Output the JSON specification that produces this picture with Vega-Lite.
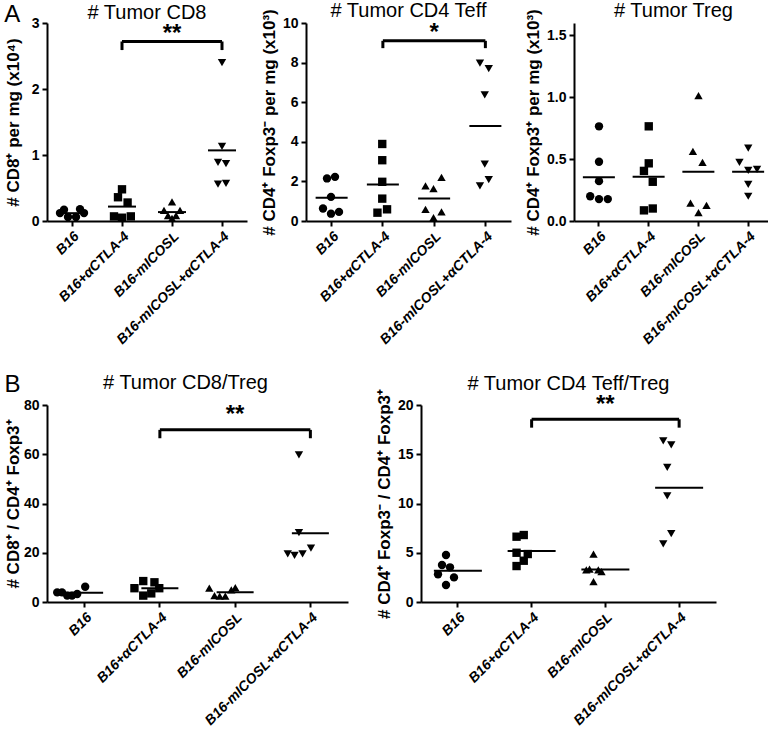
{
  "$schema": "https://vega.github.io/schema/vega-lite/v6.json",
  "padding": {"left": 4, "top": 0, "right": 0, "bottom": 0},
  "config": {
    "view": {"stroke": null},
    "font": "Liberation Sans",
    "axis": {"grid": false, "domainColor": "black", "domainWidth": 2, "tickColor": "black", "tickWidth": 2, "tickSize": 5, "labelColor": "black", "labelFont": "Liberation Sans", "labelFontWeight": "bold", "labelFontSize": 14, "titleFont": "Liberation Sans", "titleFontWeight": "bold", "titleFontSize": 17, "titleColor": "black", "labelPadding": 3, "titlePadding": 4, "labelOverlap": false, "labelFlush": false},
    "axisX": {"labelAngle": -45, "labelFontStyle": "italic", "labelFontSize": 14},
    "title": {"font": "Liberation Sans", "fontSize": 20, "fontWeight": "normal", "color": "black", "offset": -12, "frame": "group"},
    "concat": {"spacing": 20}
  },
  "spacing": 26,
  "vconcat": [
    {
      "title": {"text": "A", "anchor": "start", "fontSize": 24, "offset": -26, "frame": "bounds"},
      "spacing": 13,
      "hconcat": [
        {
          "width": 200, "height": 198,
          "title": {"text": "# Tumor CD8", "offset": -7},
          "layer": [
            {
              "data": {"values": [
                {"group": "B16", "value": 0.17, "lane": -2},
                {"group": "B16", "value": 0.12, "lane": -3},
                {"group": "B16", "value": 0.06, "lane": -1},
                {"group": "B16", "value": 0.18, "lane": 2},
                {"group": "B16", "value": 0.12, "lane": 3},
                {"group": "B16", "value": 0.06, "lane": 1},
                {"group": "B16+αCTLA-4", "value": 0.48, "lane": 0},
                {"group": "B16+αCTLA-4", "value": 0.36, "lane": -1},
                {"group": "B16+αCTLA-4", "value": 0.28, "lane": 1.4},
                {"group": "B16+αCTLA-4", "value": 0.07, "lane": -2},
                {"group": "B16+αCTLA-4", "value": 0.05, "lane": 0},
                {"group": "B16+αCTLA-4", "value": 0.07, "lane": 2.2},
                {"group": "B16-mICOSL", "value": 0.29, "lane": 0},
                {"group": "B16-mICOSL", "value": 0.16, "lane": -2},
                {"group": "B16-mICOSL", "value": 0.16, "lane": 2},
                {"group": "B16-mICOSL", "value": 0.08, "lane": -1},
                {"group": "B16-mICOSL", "value": 0.08, "lane": 1},
                {"group": "B16-mICOSL", "value": 0.04, "lane": 0},
                {"group": "B16-mICOSL+αCTLA-4", "value": 2.4, "lane": 0},
                {"group": "B16-mICOSL+αCTLA-4", "value": 1.13, "lane": 0},
                {"group": "B16-mICOSL+αCTLA-4", "value": 0.89, "lane": -1},
                {"group": "B16-mICOSL+αCTLA-4", "value": 0.87, "lane": 1},
                {"group": "B16-mICOSL+αCTLA-4", "value": 0.56, "lane": -1},
                {"group": "B16-mICOSL+αCTLA-4", "value": 0.57, "lane": 1}
              ]},
              "layer": [
                {
                  "mark": {"type": "point", "filled": true, "size": 70, "color": "black", "opacity": 1},
                  "encoding": {
                    "x": {"field": "group", "type": "nominal", "sort": ["B16", "B16+αCTLA-4", "B16-mICOSL", "B16-mICOSL+αCTLA-4"], "scale": {"paddingInner": 0, "paddingOuter": 0}, "axis": {"title": null}},
                    "xOffset": {"field": "lane", "type": "quantitative", "scale": {"domain": [-5, 5]}},
                    "y": {"field": "value", "type": "quantitative", "scale": {"domain": [0, 3]}, "axis": {"title": "# CD8⁺ per mg (x10⁴)", "values": [0, 1, 2, 3], "format": "d", "titlePadding": 9}},
                    "shape": {"field": "group", "type": "nominal", "scale": {"domain": ["B16", "B16+αCTLA-4", "B16-mICOSL", "B16-mICOSL+αCTLA-4"], "range": ["circle", "square", "triangle-up", "triangle-down"]}, "legend": null}
                  }
                },
                {
                  "mark": {"type": "tick", "color": "black", "size": 28, "thickness": 2},
                  "encoding": {
                    "x": {"field": "group", "type": "nominal", "sort": ["B16", "B16+αCTLA-4", "B16-mICOSL", "B16-mICOSL+αCTLA-4"]},
                    "y": {"aggregate": "mean", "field": "value", "type": "quantitative", "axis": {"title": "# CD8⁺ per mg (x10⁴)", "values": [0, 1, 2, 3], "format": "d", "titlePadding": 9}}
                  }
                }
              ]
            },
            {
              "data": {"values": [{"g1": "B16+αCTLA-4", "g2": "B16-mICOSL+αCTLA-4", "mid": "B16-mICOSL", "top": 2.72, "low": 2.59, "star": 2.83, "label": "**"}]},
              "layer": [
                {"mark": {"type": "rule", "color": "black", "strokeWidth": 3}, "encoding": {"x": {"field": "g1", "type": "nominal", "bandPosition": 0.5}, "x2": {"field": "g2", "bandPosition": 0.5}, "y": {"field": "top", "type": "quantitative", "axis": {"title": "# CD8⁺ per mg (x10⁴)", "values": [0, 1, 2, 3], "format": "d", "titlePadding": 9}}}},
                {"mark": {"type": "rule", "color": "black", "strokeWidth": 3}, "encoding": {"x": {"field": "g1", "type": "nominal", "bandPosition": 0.5}, "y": {"field": "top", "type": "quantitative", "axis": {"title": "# CD8⁺ per mg (x10⁴)", "values": [0, 1, 2, 3], "format": "d", "titlePadding": 9}}, "y2": {"field": "low"}}},
                {"mark": {"type": "rule", "color": "black", "strokeWidth": 3}, "encoding": {"x": {"field": "g2", "type": "nominal", "bandPosition": 0.5}, "y": {"field": "top", "type": "quantitative", "axis": {"title": "# CD8⁺ per mg (x10⁴)", "values": [0, 1, 2, 3], "format": "d", "titlePadding": 9}}, "y2": {"field": "low"}}},
                {"mark": {"type": "text", "color": "black", "fontSize": 24, "fontWeight": "bold", "baseline": "middle"}, "encoding": {"x": {"field": "mid", "type": "nominal", "bandPosition": 0.5}, "y": {"field": "star", "type": "quantitative", "axis": {"title": "# CD8⁺ per mg (x10⁴)", "values": [0, 1, 2, 3], "format": "d", "titlePadding": 9}}, "text": {"field": "label"}}}
              ]
            }
          ]
        },
        {
          "width": 205, "height": 198,
          "title": "# Tumor CD4 Teff",
          "layer": [
            {
              "data": {"values": [
                {"group": "B16", "value": 2.15, "lane": -1},
                {"group": "B16", "value": 2.23, "lane": 1},
                {"group": "B16", "value": 1.22, "lane": 0},
                {"group": "B16", "value": 0.63, "lane": -2},
                {"group": "B16", "value": 0.37, "lane": 0},
                {"group": "B16", "value": 0.46, "lane": 2},
                {"group": "B16+αCTLA-4", "value": 3.89, "lane": 0},
                {"group": "B16+αCTLA-4", "value": 3.07, "lane": 0},
                {"group": "B16+αCTLA-4", "value": 1.98, "lane": 0},
                {"group": "B16+αCTLA-4", "value": 1.13, "lane": 0},
                {"group": "B16+αCTLA-4", "value": 0.42, "lane": -1.2},
                {"group": "B16+αCTLA-4", "value": 0.59, "lane": 1.2},
                {"group": "B16-mICOSL", "value": 1.77, "lane": -2},
                {"group": "B16-mICOSL", "value": 1.64, "lane": 0},
                {"group": "B16-mICOSL", "value": 2.2, "lane": 2},
                {"group": "B16-mICOSL", "value": 0.59, "lane": -2},
                {"group": "B16-mICOSL", "value": 0.46, "lane": 2},
                {"group": "B16-mICOSL", "value": 0.17, "lane": 0},
                {"group": "B16-mICOSL+αCTLA-4", "value": 7.97, "lane": -1.2},
                {"group": "B16-mICOSL+αCTLA-4", "value": 7.69, "lane": 1},
                {"group": "B16-mICOSL+αCTLA-4", "value": 6.37, "lane": 0},
                {"group": "B16-mICOSL+αCTLA-4", "value": 2.87, "lane": 0},
                {"group": "B16-mICOSL+αCTLA-4", "value": 1.77, "lane": -1.2},
                {"group": "B16-mICOSL+αCTLA-4", "value": 2.09, "lane": 1}
              ]},
              "layer": [
                {
                  "mark": {"type": "point", "filled": true, "size": 70, "color": "black", "opacity": 1},
                  "encoding": {
                    "x": {"field": "group", "type": "nominal", "sort": ["B16", "B16+αCTLA-4", "B16-mICOSL", "B16-mICOSL+αCTLA-4"], "scale": {"paddingInner": 0, "paddingOuter": 0}, "axis": {"title": null}},
                    "xOffset": {"field": "lane", "type": "quantitative", "scale": {"domain": [-5, 5]}},
                    "y": {"field": "value", "type": "quantitative", "scale": {"domain": [0, 10]}, "axis": {"title": "# CD4⁺ Foxp3⁻ per mg (x10³)", "values": [0, 2, 4, 6, 8, 10], "format": "d"}},
                    "shape": {"field": "group", "type": "nominal", "legend": null}
                  }
                },
                {
                  "mark": {"type": "tick", "color": "black", "size": 32, "thickness": 2},
                  "encoding": {
                    "x": {"field": "group", "type": "nominal", "sort": ["B16", "B16+αCTLA-4", "B16-mICOSL", "B16-mICOSL+αCTLA-4"]},
                    "y": {"aggregate": "mean", "field": "value", "type": "quantitative", "axis": {"title": "# CD4⁺ Foxp3⁻ per mg (x10³)", "values": [0, 2, 4, 6, 8, 10], "format": "d"}}
                  }
                }
              ]
            },
            {
              "data": {"values": [{"g1": "B16+αCTLA-4", "g2": "B16-mICOSL+αCTLA-4", "mid": "B16-mICOSL", "top": 9.1, "low": 8.73, "star": 9.52, "label": "*"}]},
              "layer": [
                {"mark": {"type": "rule", "color": "black", "strokeWidth": 3}, "encoding": {"x": {"field": "g1", "type": "nominal", "bandPosition": 0.5}, "x2": {"field": "g2", "bandPosition": 0.5}, "y": {"field": "top", "type": "quantitative", "axis": {"title": "# CD4⁺ Foxp3⁻ per mg (x10³)", "values": [0, 2, 4, 6, 8, 10], "format": "d"}}}},
                {"mark": {"type": "rule", "color": "black", "strokeWidth": 3}, "encoding": {"x": {"field": "g1", "type": "nominal", "bandPosition": 0.5}, "y": {"field": "top", "type": "quantitative", "axis": {"title": "# CD4⁺ Foxp3⁻ per mg (x10³)", "values": [0, 2, 4, 6, 8, 10], "format": "d"}}, "y2": {"field": "low"}}},
                {"mark": {"type": "rule", "color": "black", "strokeWidth": 3}, "encoding": {"x": {"field": "g2", "type": "nominal", "bandPosition": 0.5}, "y": {"field": "top", "type": "quantitative", "axis": {"title": "# CD4⁺ Foxp3⁻ per mg (x10³)", "values": [0, 2, 4, 6, 8, 10], "format": "d"}}, "y2": {"field": "low"}}},
                {"mark": {"type": "text", "color": "black", "fontSize": 24, "fontWeight": "bold", "baseline": "middle"}, "encoding": {"x": {"field": "mid", "type": "nominal", "bandPosition": 0.5}, "y": {"field": "star", "type": "quantitative", "axis": {"title": "# CD4⁺ Foxp3⁻ per mg (x10³)", "values": [0, 2, 4, 6, 8, 10], "format": "d"}}, "text": {"field": "label"}}}
              ]
            }
          ]
        },
        {
          "width": 199, "height": 198,
          "title": "# Tumor Treg",
          "data": {"values": [
            {"group": "B16", "value": 0.765, "lane": 0},
            {"group": "B16", "value": 0.479, "lane": 0},
            {"group": "B16", "value": 0.322, "lane": 0},
            {"group": "B16", "value": 0.2, "lane": -2.2},
            {"group": "B16", "value": 0.177, "lane": 0},
            {"group": "B16", "value": 0.177, "lane": 2.2},
            {"group": "B16+αCTLA-4", "value": 0.765, "lane": 0},
            {"group": "B16+αCTLA-4", "value": 0.466, "lane": 0},
            {"group": "B16+αCTLA-4", "value": 0.405, "lane": -1.2},
            {"group": "B16+αCTLA-4", "value": 0.317, "lane": 1},
            {"group": "B16+αCTLA-4", "value": 0.086, "lane": -1.2},
            {"group": "B16+αCTLA-4", "value": 0.101, "lane": 1},
            {"group": "B16-mICOSL", "value": 1.013, "lane": 0},
            {"group": "B16-mICOSL", "value": 0.562, "lane": -1.4},
            {"group": "B16-mICOSL", "value": 0.474, "lane": 1},
            {"group": "B16-mICOSL", "value": 0.144, "lane": -2},
            {"group": "B16-mICOSL", "value": 0.127, "lane": 2},
            {"group": "B16-mICOSL", "value": 0.068, "lane": 0},
            {"group": "B16-mICOSL+αCTLA-4", "value": 0.588, "lane": 0},
            {"group": "B16-mICOSL+αCTLA-4", "value": 0.474, "lane": -2.2},
            {"group": "B16-mICOSL+αCTLA-4", "value": 0.41, "lane": 0},
            {"group": "B16-mICOSL+αCTLA-4", "value": 0.418, "lane": 2.2},
            {"group": "B16-mICOSL+αCTLA-4", "value": 0.296, "lane": 0},
            {"group": "B16-mICOSL+αCTLA-4", "value": 0.2, "lane": 0}
          ]},
          "layer": [
            {
              "mark": {"type": "point", "filled": true, "size": 70, "color": "black", "opacity": 1},
              "encoding": {
                "x": {"field": "group", "type": "nominal", "sort": ["B16", "B16+αCTLA-4", "B16-mICOSL", "B16-mICOSL+αCTLA-4"], "scale": {"paddingInner": 0, "paddingOuter": 0}, "axis": {"title": null}},
                "xOffset": {"field": "lane", "type": "quantitative", "scale": {"domain": [-5, 5]}},
                "y": {"field": "value", "type": "quantitative", "scale": {"domain": [0, 1.5]}, "axis": {"title": "# CD4⁺ Foxp3⁺ per mg (x10³)", "values": [0, 0.5, 1, 1.5], "format": ".1f", "titlePadding": 4}},
                "shape": {"field": "group", "type": "nominal", "legend": null}
              }
            },
            {
              "mark": {"type": "tick", "color": "black", "size": 32, "thickness": 2},
              "encoding": {
                "x": {"field": "group", "type": "nominal", "sort": ["B16", "B16+αCTLA-4", "B16-mICOSL", "B16-mICOSL+αCTLA-4"]},
                "y": {"aggregate": "mean", "field": "value", "type": "quantitative", "axis": {"title": "# CD4⁺ Foxp3⁺ per mg (x10³)", "values": [0, 0.5, 1, 1.5], "format": ".1f", "titlePadding": 4}}
              }
            }
          ]
        }
      ]
    },
    {
      "title": {"text": "B", "anchor": "start", "fontSize": 24, "offset": -24, "frame": "bounds"},
      "spacing": 27,
      "hconcat": [
        {
          "width": 301, "height": 197,
          "title": {"text": "# Tumor CD8/Treg", "dx": -12, "offset": 5},
          "layer": [
            {
              "data": {"values": [
                {"group": "B16", "value": 3.9, "lane": -3.7},
                {"group": "B16", "value": 3.9, "lane": -2.5},
                {"group": "B16", "value": 2.6, "lane": -1.2},
                {"group": "B16", "value": 2.6, "lane": 0},
                {"group": "B16", "value": 3.25, "lane": 1.3},
                {"group": "B16", "value": 6.2, "lane": 3.3},
                {"group": "B16+αCTLA-4", "value": 5.6, "lane": -3.2},
                {"group": "B16+αCTLA-4", "value": 8.5, "lane": -1},
                {"group": "B16+αCTLA-4", "value": 2.6, "lane": -1},
                {"group": "B16+αCTLA-4", "value": 3.5, "lane": 1},
                {"group": "B16+αCTLA-4", "value": 8.0, "lane": 1.8},
                {"group": "B16+αCTLA-4", "value": 5.6, "lane": 3},
                {"group": "B16-mICOSL", "value": 5.6, "lane": -3.3},
                {"group": "B16-mICOSL", "value": 2.6, "lane": -2},
                {"group": "B16-mICOSL", "value": 2.4, "lane": -0.7},
                {"group": "B16-mICOSL", "value": 2.4, "lane": 0.7},
                {"group": "B16-mICOSL", "value": 4.9, "lane": 2.2},
                {"group": "B16-mICOSL", "value": 5.8, "lane": 3.2},
                {"group": "B16-mICOSL+αCTLA-4", "value": 19.5, "lane": -2.5},
                {"group": "B16-mICOSL+αCTLA-4", "value": 18.9, "lane": -0.8},
                {"group": "B16-mICOSL+αCTLA-4", "value": 19.5, "lane": 1.2},
                {"group": "B16-mICOSL+αCTLA-4", "value": 21.9, "lane": 3.3},
                {"group": "B16-mICOSL+αCTLA-4", "value": 28.2, "lane": 0.3},
                {"group": "B16-mICOSL+αCTLA-4", "value": 59.7, "lane": 0.3}
              ]},
              "layer": [
                {
                  "mark": {"type": "point", "filled": true, "size": 70, "color": "black", "opacity": 1},
                  "encoding": {
                    "x": {"field": "group", "type": "nominal", "sort": ["B16", "B16+αCTLA-4", "B16-mICOSL", "B16-mICOSL+αCTLA-4"], "scale": {"paddingInner": 0, "paddingOuter": 0}, "axis": {"title": null}},
                    "xOffset": {"field": "lane", "type": "quantitative", "scale": {"domain": [-6.25, 6.25]}},
                    "y": {"field": "value", "type": "quantitative", "scale": {"domain": [0, 80]}, "axis": {"title": "# CD8⁺ / CD4⁺ Foxp3⁺", "values": [0, 20, 40, 60, 80], "format": "d", "titlePadding": 1}},
                    "shape": {"field": "group", "type": "nominal", "legend": null}
                  }
                },
                {
                  "mark": {"type": "tick", "color": "black", "size": 37, "thickness": 2},
                  "encoding": {
                    "x": {"field": "group", "type": "nominal", "sort": ["B16", "B16+αCTLA-4", "B16-mICOSL", "B16-mICOSL+αCTLA-4"]},
                    "y": {"aggregate": "mean", "field": "value", "type": "quantitative", "axis": {"title": "# CD8⁺ / CD4⁺ Foxp3⁺", "values": [0, 20, 40, 60, 80], "format": "d", "titlePadding": 1}}
                  }
                }
              ]
            },
            {
              "data": {"values": [{"g1": "B16+αCTLA-4", "g2": "B16-mICOSL+αCTLA-4", "mid": "B16-mICOSL", "top": 69.9, "low": 66.5, "star": 76.0, "label": "**"}]},
              "layer": [
                {"mark": {"type": "rule", "color": "black", "strokeWidth": 3}, "encoding": {"x": {"field": "g1", "type": "nominal", "bandPosition": 0.5}, "x2": {"field": "g2", "bandPosition": 0.5}, "y": {"field": "top", "type": "quantitative", "axis": {"title": "# CD8⁺ / CD4⁺ Foxp3⁺", "values": [0, 20, 40, 60, 80], "format": "d", "titlePadding": 1}}}},
                {"mark": {"type": "rule", "color": "black", "strokeWidth": 3}, "encoding": {"x": {"field": "g1", "type": "nominal", "bandPosition": 0.5}, "y": {"field": "top", "type": "quantitative", "axis": {"title": "# CD8⁺ / CD4⁺ Foxp3⁺", "values": [0, 20, 40, 60, 80], "format": "d", "titlePadding": 1}}, "y2": {"field": "low"}}},
                {"mark": {"type": "rule", "color": "black", "strokeWidth": 3}, "encoding": {"x": {"field": "g2", "type": "nominal", "bandPosition": 0.5}, "y": {"field": "top", "type": "quantitative", "axis": {"title": "# CD8⁺ / CD4⁺ Foxp3⁺", "values": [0, 20, 40, 60, 80], "format": "d", "titlePadding": 1}}, "y2": {"field": "low"}}},
                {"mark": {"type": "text", "color": "black", "fontSize": 24, "fontWeight": "bold", "baseline": "middle"}, "encoding": {"x": {"field": "mid", "type": "nominal", "bandPosition": 0.5}, "y": {"field": "star", "type": "quantitative", "axis": {"title": "# CD8⁺ / CD4⁺ Foxp3⁺", "values": [0, 20, 40, 60, 80], "format": "d", "titlePadding": 1}}, "text": {"field": "label"}}}
              ]
            }
          ]
        },
        {
          "width": 295, "height": 197,
          "title": {"text": "# Tumor CD4 Teff/Treg", "offset": -5},
          "layer": [
            {
              "data": {"values": [
                {"group": "B16", "value": 4.77, "lane": 0},
                {"group": "B16", "value": 3.76, "lane": -1},
                {"group": "B16", "value": 3.52, "lane": 1},
                {"group": "B16", "value": 2.81, "lane": -2},
                {"group": "B16", "value": 2.5, "lane": 2},
                {"group": "B16", "value": 1.73, "lane": 0},
                {"group": "B16+αCTLA-4", "value": 6.63, "lane": -0.8},
                {"group": "B16+αCTLA-4", "value": 6.8, "lane": 1},
                {"group": "B16+αCTLA-4", "value": 5.0, "lane": -0.8},
                {"group": "B16+αCTLA-4", "value": 4.87, "lane": 2},
                {"group": "B16+αCTLA-4", "value": 4.19, "lane": 1},
                {"group": "B16+αCTLA-4", "value": 3.65, "lane": -0.8},
                {"group": "B16-mICOSL", "value": 4.87, "lane": 0},
                {"group": "B16-mICOSL", "value": 3.25, "lane": -1.8},
                {"group": "B16-mICOSL", "value": 3.35, "lane": -1},
                {"group": "B16-mICOSL", "value": 3.25, "lane": 1.2},
                {"group": "B16-mICOSL", "value": 3.08, "lane": 2},
                {"group": "B16-mICOSL", "value": 2.06, "lane": 0},
                {"group": "B16-mICOSL+αCTLA-4", "value": 16.35, "lane": -1},
                {"group": "B16-mICOSL+αCTLA-4", "value": 15.95, "lane": 1},
                {"group": "B16-mICOSL+αCTLA-4", "value": 13.68, "lane": 0},
                {"group": "B16-mICOSL+αCTLA-4", "value": 10.78, "lane": 0},
                {"group": "B16-mICOSL+αCTLA-4", "value": 6.93, "lane": 1},
                {"group": "B16-mICOSL+αCTLA-4", "value": 5.91, "lane": -1}
              ]},
              "layer": [
                {
                  "mark": {"type": "point", "filled": true, "size": 70, "color": "black", "opacity": 1},
                  "encoding": {
                    "x": {"field": "group", "type": "nominal", "sort": ["B16", "B16+αCTLA-4", "B16-mICOSL", "B16-mICOSL+αCTLA-4"], "scale": {"paddingInner": 0, "paddingOuter": 0}, "axis": {"title": null}},
                    "xOffset": {"field": "lane", "type": "quantitative", "scale": {"domain": [-6.25, 6.25]}},
                    "y": {"field": "value", "type": "quantitative", "scale": {"domain": [0, 20]}, "axis": {"title": "# CD4⁺ Foxp3⁻ / CD4⁺ Foxp3⁺", "values": [0, 5, 10, 15, 20], "format": "d"}},
                    "shape": {"field": "group", "type": "nominal", "legend": null}
                  }
                },
                {
                  "mark": {"type": "tick", "color": "black", "size": 48, "thickness": 2},
                  "encoding": {
                    "x": {"field": "group", "type": "nominal", "sort": ["B16", "B16+αCTLA-4", "B16-mICOSL", "B16-mICOSL+αCTLA-4"]},
                    "y": {"aggregate": "mean", "field": "value", "type": "quantitative", "axis": {"title": "# CD4⁺ Foxp3⁻ / CD4⁺ Foxp3⁺", "values": [0, 5, 10, 15, 20], "format": "d"}}
                  }
                }
              ]
            },
            {
              "data": {"values": [{"g1": "B16+αCTLA-4", "g2": "B16-mICOSL+αCTLA-4", "mid": "B16-mICOSL", "top": 18.55, "low": 17.7, "star": 19.95, "label": "**"}]},
              "layer": [
                {"mark": {"type": "rule", "color": "black", "strokeWidth": 3}, "encoding": {"x": {"field": "g1", "type": "nominal", "bandPosition": 0.5}, "x2": {"field": "g2", "bandPosition": 0.5}, "y": {"field": "top", "type": "quantitative", "axis": {"title": "# CD4⁺ Foxp3⁻ / CD4⁺ Foxp3⁺", "values": [0, 5, 10, 15, 20], "format": "d"}}}},
                {"mark": {"type": "rule", "color": "black", "strokeWidth": 3}, "encoding": {"x": {"field": "g1", "type": "nominal", "bandPosition": 0.5}, "y": {"field": "top", "type": "quantitative", "axis": {"title": "# CD4⁺ Foxp3⁻ / CD4⁺ Foxp3⁺", "values": [0, 5, 10, 15, 20], "format": "d"}}, "y2": {"field": "low"}}},
                {"mark": {"type": "rule", "color": "black", "strokeWidth": 3}, "encoding": {"x": {"field": "g2", "type": "nominal", "bandPosition": 0.5}, "y": {"field": "top", "type": "quantitative", "axis": {"title": "# CD4⁺ Foxp3⁻ / CD4⁺ Foxp3⁺", "values": [0, 5, 10, 15, 20], "format": "d"}}, "y2": {"field": "low"}}},
                {"mark": {"type": "text", "color": "black", "fontSize": 24, "fontWeight": "bold", "baseline": "middle"}, "encoding": {"x": {"field": "mid", "type": "nominal", "bandPosition": 0.5}, "y": {"field": "star", "type": "quantitative", "axis": {"title": "# CD4⁺ Foxp3⁻ / CD4⁺ Foxp3⁺", "values": [0, 5, 10, 15, 20], "format": "d"}}, "text": {"field": "label"}}}
              ]
            }
          ]
        }
      ]
    }
  ]
}
